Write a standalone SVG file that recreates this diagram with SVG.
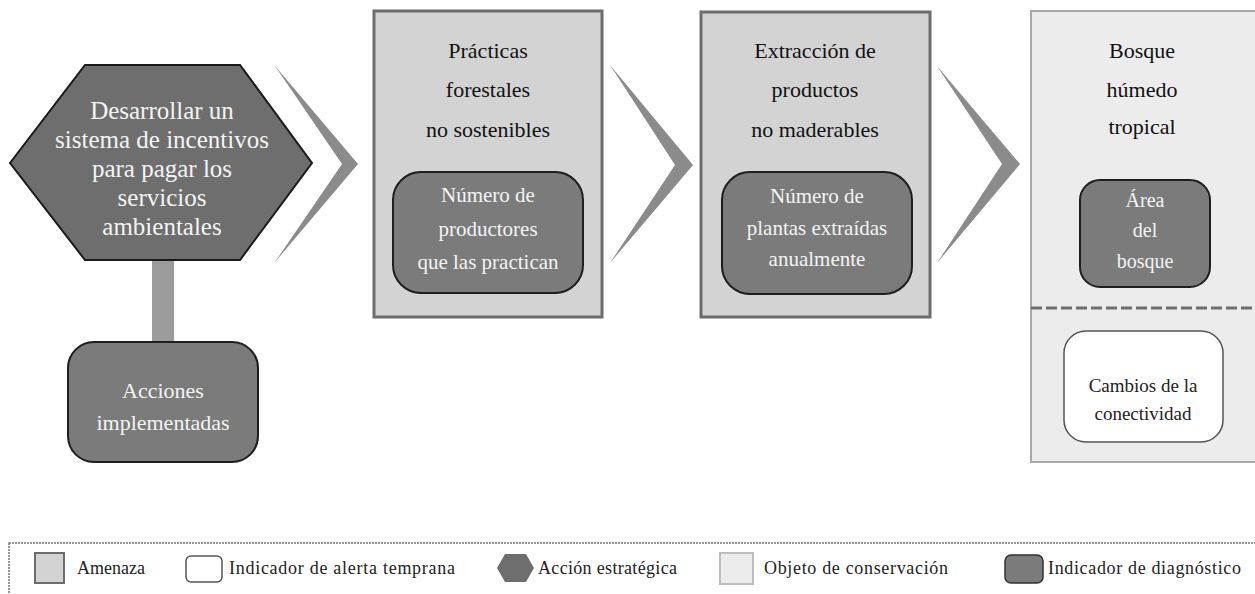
<svg xmlns="http://www.w3.org/2000/svg" width="1255" height="594" viewBox="0 0 1255 594">
<style>
.serif{font-family:"Liberation Serif","Times New Roman",serif;text-anchor:middle}
.wt{fill:#f4f4f4}
.bk{fill:#111}
.hex{fill:#6e6e6e;stroke:#1a1a1a;stroke-width:2}
.threat{fill:#d3d3d3;stroke:#6c6c6c;stroke-width:3}
.diag{fill:#7b7b7b;stroke:#1e1e1e;stroke-width:2}
.obj{fill:#ececec;stroke:#a8a8a8;stroke-width:2}
.early{fill:#ffffff;stroke:#555;stroke-width:1.5}
.chev{fill:#8b8b8b}
.leg{font-family:"Liberation Serif","Times New Roman",serif;font-size:18px;fill:#222}
</style>
<g id="connectors">
<rect x="152" y="259" width="22" height="84" fill="#9b9b9b"/>
<polygon class="chev" points="275,66 358,164 275,262 342,164"/>
<polygon class="chev" points="610,65 693,165 610,263 675,165"/>
<polygon class="chev" points="937,66 1020,164 937,263 1002,164"/>
</g>
<g id="action">
<polygon class="hex" points="10,163 85,65 240,65 312,163 240,260 85,260"/>
<text class="serif wt" font-size="25"><tspan x="162" y="119">Desarrollar un</tspan><tspan x="162" y="148">sistema de incentivos</tspan><tspan x="162" y="177">para pagar los</tspan><tspan x="162" y="206">servicios</tspan><tspan x="162" y="235">ambientales</tspan></text>
</g>
<g id="acciones">
<rect class="diag" x="68" y="342" width="190" height="120" rx="26"/>
<text class="serif wt" font-size="22"><tspan x="163" y="398">Acciones</tspan><tspan x="163" y="430">implementadas</tspan></text>
</g>
<g id="threat1">
<rect class="threat" x="374" y="11" width="228" height="306"/>
<text class="serif bk" font-size="22"><tspan x="488" y="58">Prácticas</tspan><tspan x="488" y="97">forestales</tspan><tspan x="488" y="137">no sostenibles</tspan></text>
</g>
<g id="diag1">
<rect class="diag" x="393" y="172" width="190" height="121" rx="28"/>
<text class="serif wt" font-size="21"><tspan x="488" y="202">Número de</tspan><tspan x="488" y="236">productores</tspan><tspan x="488" y="269">que las practican</tspan></text>
</g>
<g id="threat2">
<rect class="threat" x="701" y="12" width="229" height="305"/>
<text class="serif bk" font-size="22"><tspan x="815" y="58">Extracción de</tspan><tspan x="815" y="97">productos</tspan><tspan x="815" y="137">no maderables</tspan></text>
</g>
<g id="diag2">
<rect class="diag" x="722" y="172" width="190" height="122" rx="28"/>
<text class="serif wt" font-size="21"><tspan x="817" y="203">Número de</tspan><tspan x="817" y="235">plantas extraídas</tspan><tspan x="817" y="266">anualmente</tspan></text>
</g>
<g id="target">
<rect class="obj" x="1031" y="11" width="230" height="451"/>
<line x1="1031" y1="308" x2="1255" y2="308" stroke="#6e6e6e" stroke-width="3" stroke-dasharray="11,4"/>
<text class="serif bk" font-size="22"><tspan x="1142" y="58">Bosque</tspan><tspan x="1142" y="97">húmedo</tspan><tspan x="1142" y="134">tropical</tspan></text>
</g>
<g id="diag3">
<rect class="diag" x="1080" y="180" width="130" height="107" rx="20"/>
<text class="serif wt" font-size="20"><tspan x="1145" y="207">Área</tspan><tspan x="1145" y="237">del</tspan><tspan x="1145" y="268">bosque</tspan></text>
</g>
<g id="early">
<rect class="early" x="1064" y="331" width="159" height="111" rx="22"/>
<text class="serif" font-size="19" fill="#222"><tspan x="1143" y="392">Cambios de la</tspan><tspan x="1143" y="420">conectividad</tspan></text>
</g>
<g id="legend">
<rect x="9" y="543" width="1260" height="70" fill="#fff" stroke="#777" stroke-width="1.5" stroke-dasharray="2,1"/>
<rect x="35" y="553" width="29" height="30" fill="#d3d3d3" stroke="#6c6c6c" stroke-width="2"/>
<text class="leg" x="77" y="574" textLength="68">Amenaza</text>
<rect x="186" y="556" width="36" height="26" rx="5" fill="#fff" stroke="#555" stroke-width="1.5"/>
<text class="leg" x="229" y="574" textLength="226">Indicador de alerta temprana</text>
<polygon points="497,568 505,554 526,554 534,568 526,582 505,582" fill="#6e6e6e"/>
<text class="leg" x="538" y="574" textLength="139">Acción estratégica</text>
<rect x="720" y="553" width="33" height="31" fill="#ececec" stroke="#bdbdbd" stroke-width="2"/>
<text class="leg" x="764" y="574" textLength="184">Objeto de conservación</text>
<rect x="1005" y="555" width="38" height="28" rx="6" fill="#7b7b7b" stroke="#333" stroke-width="1.5"/>
<text class="leg" x="1048" y="574" textLength="193">Indicador de diagnóstico</text>
</g>
</svg>
